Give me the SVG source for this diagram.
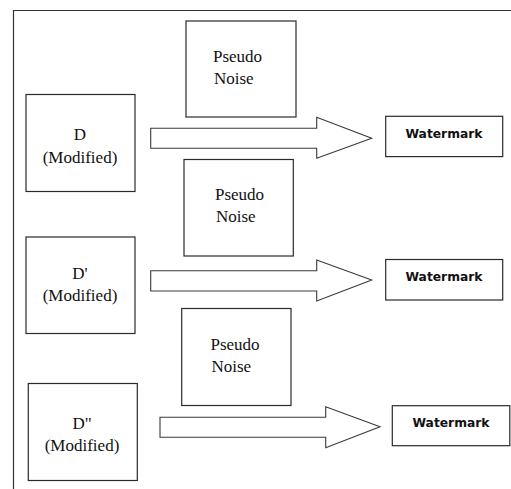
<svg xmlns="http://www.w3.org/2000/svg" width="511" height="489" viewBox="0 0 511 489">
<style>
.box{fill:#fff;stroke:#2a2a2a;stroke-width:1.2}
.arr{fill:#fff;stroke:#3a3a3a;stroke-width:1.1;stroke-linejoin:miter}
.serif{font-family:"Liberation Serif","Times New Roman",serif;font-size:17px;fill:#111}
.wm{font-family:"DejaVu Sans",Verdana,sans-serif;font-size:12.3px;font-weight:bold;fill:#111;text-anchor:middle}
.c{text-anchor:middle}
</style>
<rect width="511" height="489" fill="#fff"/>
<g id="frame">
<path d="M13.5 489 V10.5 H511" fill="none" stroke="#333" stroke-width="1.2"/>
</g>
<g id="pn1"><rect class="box" x="186" y="21" width="110" height="96"/>
<text class="serif" x="213" y="62">Pseudo</text><text class="serif" x="214" y="83.5">Noise</text></g>
<g id="d1"><rect class="box" x="26" y="94.5" width="109" height="97"/>
<text class="serif c" x="80" y="140">D</text><text class="serif c" x="80" y="163">(Modified)</text></g>
<g id="wm1"><rect class="box" x="385.7" y="116.3" width="117" height="40.3"/>
<text class="wm" x="444" y="137.5">Watermark</text></g>
<g id="pn2"><rect class="box" x="184" y="159.5" width="109.3" height="96.5"/>
<text class="serif" x="215" y="200">Pseudo</text><text class="serif" x="216" y="221.5">Noise</text></g>
<g id="d2"><rect class="box" x="26" y="237" width="109" height="96.5"/>
<text class="serif c" x="80" y="278.5">D'</text><text class="serif c" x="80" y="300.5">(Modified)</text></g>
<g id="wm2"><rect class="box" x="385.7" y="259.5" width="117" height="40.5"/>
<text class="wm" x="444" y="281">Watermark</text></g>
<g id="pn3"><rect class="box" x="181.7" y="308.5" width="109.3" height="97"/>
<text class="serif" x="210.5" y="350">Pseudo</text><text class="serif" x="211.5" y="371.5">Noise</text></g>
<g id="d3"><rect class="box" x="28.3" y="383.5" width="109" height="97"/>
<text class="serif c" x="82" y="428.5">D"</text><text class="serif c" x="82" y="451">(Modified)</text></g>
<g id="wm3"><rect class="box" x="392.3" y="405.7" width="117.5" height="40"/>
<text class="wm" x="451" y="426.5">Watermark</text></g>
<g id="connectors">
<path class="arr" d="M150.7 128.3 H316.7 V117.3 L371.7 138.3 L316.7 158.3 V148.3 H150.7 Z"/>
<path class="arr" d="M150.7 270.7 H316.7 V260 L371.7 280 L316.7 301 V291 H150.7 Z"/>
<path class="arr" d="M160 417.3 H325.7 V406.7 L380 426.7 L325.7 447.7 V437.3 H160 Z"/>
</g>
</svg>
